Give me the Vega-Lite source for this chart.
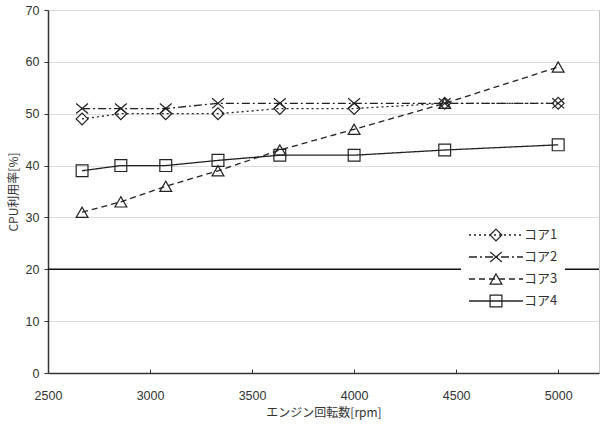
{
  "$schema": "https://vega.github.io/schema/vega-lite/v6.json",
  "width": 551,
  "height": 363,
  "autosize": "none",
  "padding": {"left": 48, "top": 10, "right": 7, "bottom": 70},
  "background": "white",
  "config": {
    "view": {"stroke": "#c4c4c4", "strokeWidth": 1},
    "font": "Liberation Sans",
    "axis": {
      "labelFont": "Liberation Sans",
      "labelFontSize": 12.5,
      "labelColor": "#333",
      "titleFont": "Noto Sans CJK JP",
      "titleFontSize": 12,
      "titleFontWeight": "normal",
      "titleColor": "#333",
      "domainColor": "#333",
      "domainWidth": 1.5,
      "tickColor": "#333",
      "tickWidth": 1
    }
  },
  "datasets": {
    "cpu": [
      {"rpm": 2667, "core": "コア1", "cpu": 49},
      {"rpm": 2857, "core": "コア1", "cpu": 50},
      {"rpm": 3077, "core": "コア1", "cpu": 50},
      {"rpm": 3333, "core": "コア1", "cpu": 50},
      {"rpm": 3636, "core": "コア1", "cpu": 51},
      {"rpm": 4000, "core": "コア1", "cpu": 51},
      {"rpm": 4444, "core": "コア1", "cpu": 52},
      {"rpm": 5000, "core": "コア1", "cpu": 52},
      {"rpm": 2667, "core": "コア2", "cpu": 51},
      {"rpm": 2857, "core": "コア2", "cpu": 51},
      {"rpm": 3077, "core": "コア2", "cpu": 51},
      {"rpm": 3333, "core": "コア2", "cpu": 52},
      {"rpm": 3636, "core": "コア2", "cpu": 52},
      {"rpm": 4000, "core": "コア2", "cpu": 52},
      {"rpm": 4444, "core": "コア2", "cpu": 52},
      {"rpm": 5000, "core": "コア2", "cpu": 52},
      {"rpm": 2667, "core": "コア3", "cpu": 31},
      {"rpm": 2857, "core": "コア3", "cpu": 33},
      {"rpm": 3077, "core": "コア3", "cpu": 36},
      {"rpm": 3333, "core": "コア3", "cpu": 39},
      {"rpm": 3636, "core": "コア3", "cpu": 43},
      {"rpm": 4000, "core": "コア3", "cpu": 47},
      {"rpm": 4444, "core": "コア3", "cpu": 52},
      {"rpm": 5000, "core": "コア3", "cpu": 59},
      {"rpm": 2667, "core": "コア4", "cpu": 39},
      {"rpm": 2857, "core": "コア4", "cpu": 40},
      {"rpm": 3077, "core": "コア4", "cpu": 40},
      {"rpm": 3333, "core": "コア4", "cpu": 41},
      {"rpm": 3636, "core": "コア4", "cpu": 42},
      {"rpm": 4000, "core": "コア4", "cpu": 42},
      {"rpm": 4444, "core": "コア4", "cpu": 43},
      {"rpm": 5000, "core": "コア4", "cpu": 44}
    ],
    "limit": [{"limit": 20}]
  },
  "layer": [
    {
      "data": {"name": "cpu"},
      "mark": {"type": "line", "color": "#222", "strokeWidth": 1.3},
      "encoding": {
        "x": {
          "field": "rpm", "type": "quantitative",
          "scale": {"domain": [2500, 5200], "nice": false, "zero": false},
          "axis": {
            "title": "エンジン回転数[rpm]",
            "values": [2500, 3000, 3500, 4000, 4500, 5000],
            "format": "d",
            "grid": false,
            "tickSize": -4,
            "labelPadding": 20,
            "labelFlush": false,
            "titlePadding": 6
          }
        },
        "y": {
          "field": "cpu", "type": "quantitative",
          "scale": {"domain": [0, 70], "nice": false},
          "axis": {
            "title": "CPU利用率[%]",
            "values": [0, 10, 20, 30, 40, 50, 60, 70],
            "format": "d",
            "grid": true,
            "gridColor": "#dddddd",
            "gridWidth": 1,
            "tickSize": 4,
            "labelPadding": 5,
            "titlePadding": 5
          }
        },
        "strokeDash": {
          "field": "core", "type": "nominal",
          "scale": {
            "domain": ["コア1", "コア2", "コア3", "コア4"],
            "range": [[2, 3], [8, 3, 2, 3], [6, 4], [1, 0]]
          },
          "legend": {
            "title": null,
            "orient": "none",
            "legendX": 413,
            "legendY": 210,
            "symbolType": "M-4.5,0L4.5,0",
            "symbolSize": 144,
            "symbolOffset": 21,
            "symbolStrokeColor": "#222",
            "symbolStrokeWidth": 1.3,
            "labelOffset": 21,
            "labelFont": "Noto Sans CJK JP",
            "labelFontSize": 13,
            "labelColor": "#333",
            "clipHeight": 16,
            "rowPadding": 6,
            "padding": 7,
            "fillColor": "white",
            "zindex": 1
          }
        }
      }
    },
    {
      "data": {"name": "cpu"},
      "mark": {"type": "point", "filled": false, "color": "#222", "strokeWidth": 1.2, "size": 140, "opacity": 1},
      "encoding": {
        "x": {"field": "rpm", "type": "quantitative"},
        "y": {"field": "cpu", "type": "quantitative"},
        "shape": {
          "field": "core", "type": "nominal",
          "scale": {"range": ["diamond", "M-1,-0.85L1,0.85M-1,0.85L1,-0.85", "triangle-up", "square"]},
          "legend": {
            "title": null,
            "orient": "none",
            "legendX": 413,
            "legendY": 210,
            "symbolSize": 140,
            "symbolOffset": 21,
            "symbolStrokeColor": "#222",
            "symbolStrokeWidth": 1.2,
            "labelOffset": 21,
            "labelFont": "Noto Sans CJK JP",
            "labelFontSize": 13,
            "labelExpr": "''",
            "clipHeight": 16,
            "rowPadding": 6,
            "padding": 7,
            "zindex": 2
          }
        }
      }
    },
    {
      "data": {"name": "limit"},
      "mark": {"type": "rule", "color": "#111", "strokeWidth": 1.5},
      "encoding": {
        "y": {"field": "limit", "type": "quantitative"}
      }
    }
  ]
}
